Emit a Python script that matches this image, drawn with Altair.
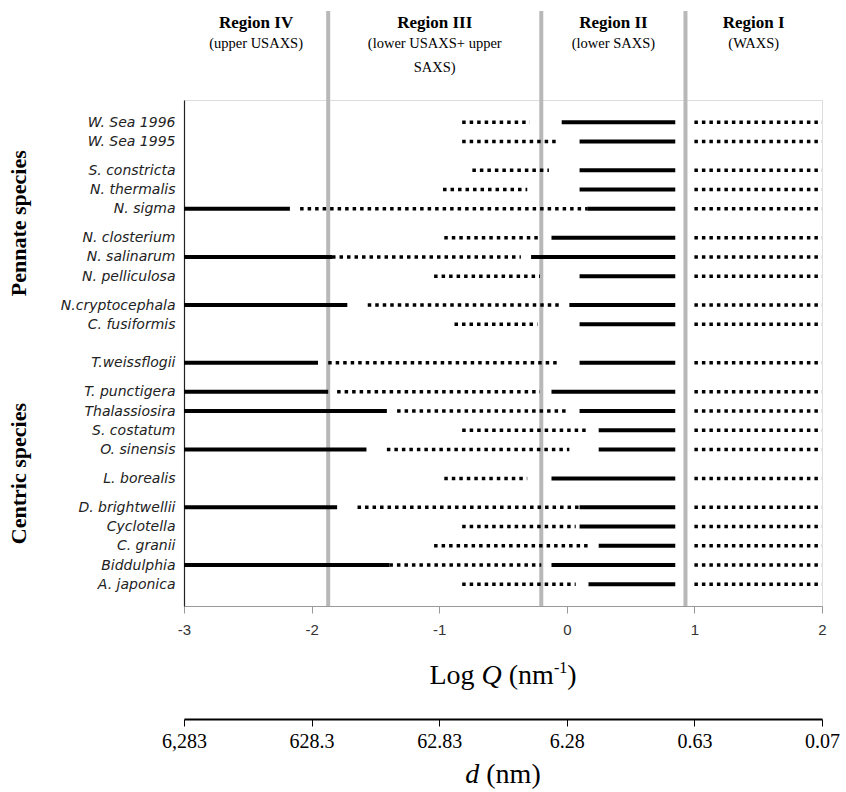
import altair as alt
import pandas as pd

# ---------------- data ----------------
species = ["W. Sea 1996", "W. Sea 1995", "S. constricta", "N. thermalis", "N. sigma",
           "N. closterium", "N. salinarum", "N. pelliculosa", "N.cryptocephala", "C. fusiformis",
           "T.weissflogii", "T. punctigera", "Thalassiosira", "S. costatum", "O. sinensis",
           "L. borealis", "D. brightwellii", "Cyclotella", "C. granii", "Biddulphia", "A. japonica"]
groups = ["Pennate species"] * 10 + ["Centric species"] * 11
# row slot of each species on the vertical grid (as spaced in the figure)
row_slot = [0, 2, 5, 7, 9, 12, 14, 16, 19, 21,
            25, 28, 30, 32, 34, 37, 40, 42, 44, 46, 48]
# Region IV solid segment end (starts at -3); None = no segment
iv_end = [None, None, None, None, -2.17, None, -1.84, None, -1.72, None,
          -1.95, -1.87, -1.41, None, -1.57, None, -1.80, None, None, -1.39, None]
# Region III dotted segment
iii_start = [-0.82, -0.82, -0.74, -0.97, -2.09, -0.96, -1.84, -1.04, -1.56, -0.88,
             -1.87, -1.80, -1.33, -0.82, -1.41, -0.96, -1.64, -0.82, -1.04, -1.39, -0.82]
iii_end = [-0.29, -0.06, -0.14, -0.31, 0.16, -0.20, -0.36, -0.21, -0.06, -0.23,
           -0.07, -0.21, 0.00, 0.17, 0.02, -0.31, 0.10, 0.07, 0.17, -0.20, 0.07]
# Region II solid segment start (ends at II_END)
ii_start = [-0.04, 0.10, 0.10, 0.10, 0.16, -0.12, -0.28, 0.10, 0.02, 0.10,
            0.10, -0.12, 0.10, 0.25, 0.25, -0.12, 0.10, 0.10, 0.25, -0.12, 0.17]
II_END = 0.85
I_START, I_END = 1.0, 2.0
AXIS_MIN, AXIS_MAX = -3, 2

region_bounds = [-3, -1.87, -0.20, 0.93, 2]
region_names = ["Region IV", "Region III", "Region II", "Region I"]
region_subs = ["(upper USAXS)", "(lower USAXS+ upper\nSAXS)", "(lower SAXS)", "(WAXS)"]

q_ticks = [-3, -2, -1, 0, 1, 2]
d_labels = ["6,283", "628.3", "62.83", "6.28", "0.63", "0.07"]

# ---------------- tables ----------------
rows = []
for i, s in enumerate(species):
    if iv_end[i] is not None:
        rows.append(dict(species=s, slot=row_slot[i], kind="solid", x=AXIS_MIN, x2=iv_end[i]))
    rows.append(dict(species=s, slot=row_slot[i], kind="dotted", x=iii_start[i], x2=iii_end[i]))
    rows.append(dict(species=s, slot=row_slot[i], kind="solid", x=ii_start[i], x2=II_END))
    rows.append(dict(species=s, slot=row_slot[i], kind="dotted", x=I_START, x2=I_END))
seg = pd.DataFrame(rows)

regions = pd.DataFrame({
    "name": region_names,
    "sub": region_subs,
    "mid": [(region_bounds[k] + region_bounds[k + 1]) / 2 for k in range(4)],
})
bounds = pd.DataFrame({"b": region_bounds[1:-1]})

grp_names = ["Pennate species", "Centric species"]
grp_center = []
for g in grp_names:
    sl = [row_slot[i] for i in range(len(species)) if groups[i] == g]
    grp_center.append((min(sl) + max(sl)) / 2)
grp = pd.DataFrame({"g": grp_names, "yc": grp_center})

# ---------------- layout ----------------
W, H = 638, 506
SERIF = "Liberation Serif"
SANS = "Liberation Sans"

x_scale = alt.Scale(domain=[AXIS_MIN, AXIS_MAX], nice=False, zero=False)
y_scale = alt.Scale(domain=[-2.3, 50.25], reverse=True, nice=False, zero=False)


def nested(values, labels):
    expr = "''"
    for v, l in reversed(list(zip(values, labels))):
        expr = f"datum.value == {v} ? '{l}' : ({expr})"
    return expr


y_axis = alt.Axis(values=row_slot, labelExpr=nested(row_slot, species), title=None,
                  ticks=False, tickSize=0, grid=False, domainColor="#222", domainWidth=1.2,
                  labelFont="DejaVu Sans", labelFontStyle="italic", labelFontSize=14,
                  labelColor="#222", labelPadding=9, labelOverlap=False)

x_axis = alt.Axis(values=q_ticks, labelExpr="'' + datum.value", title=None, grid=False,
                  domainColor="#999", tickColor="#999", tickSize=7, labelFlush=False,
                  labelFont=SANS, labelFontSize=15, labelColor="#333", labelPadding=9)

d_axis = alt.Axis(orient="bottom", offset=113, values=q_ticks, labelExpr=nested(q_ticks, d_labels),
                  title=None, grid=False, domainColor="black", domainWidth=2.2,
                  tickColor="black", tickSize=7, labelFlush=False, labelOverlap=False,
                  labelFont=SERIF, labelFontSize=20, labelColor="black", labelPadding=5)

gray = alt.Chart(bounds).mark_rule(color="#b8b8b8", strokeWidth=4).encode(
    x=alt.X("b:Q", scale=x_scale, axis=None),
    y=alt.value(-89), y2=alt.value(H))

solid = alt.Chart(seg).transform_filter(alt.datum.kind == "solid").mark_rule(
    color="black", strokeWidth=4).encode(
    x=alt.X("x:Q", scale=x_scale, axis=x_axis), x2="x2:Q",
    y=alt.Y("slot:Q", scale=y_scale, axis=y_axis))

dotted = alt.Chart(seg).transform_filter(alt.datum.kind == "dotted").mark_rule(
    color="black", strokeWidth=3.5, strokeDash=[3.5, 4], strokeCap="butt").encode(
    x=alt.X("x:Q", scale=x_scale, axis=None), x2="x2:Q",
    y=alt.Y("slot:Q", scale=y_scale, axis=y_axis))

d_layer = alt.Chart(pd.DataFrame({"v": q_ticks})).mark_point(opacity=0).encode(
    x=alt.X("v:Q", scale=x_scale, axis=d_axis))

reg_title = alt.Chart(regions).mark_text(font=SERIF, fontWeight="bold", fontSize=17,
                                         color="black").encode(
    x=alt.X("mid:Q", scale=x_scale, axis=None), y=alt.value(-77), text="name:N")

reg_sub = alt.Chart(regions).mark_text(font=SERIF, fontSize=14.5, color="black",
                                       baseline="top", lineBreak="\n", lineHeight=24).encode(
    x=alt.X("mid:Q", scale=x_scale, axis=None), y=alt.value(-63), text="sub:N")

grp_text = alt.Chart(grp).mark_text(font=SERIF, fontWeight="bold", fontSize=22, angle=270,
                                    color="black").encode(
    x=alt.value(-165), y=alt.Y("yc:Q", scale=y_scale, axis=y_axis), text="g:N")

# ---- composed axis titles (mixed styles) ----
TW = {"L": 611, "o": 500, "g": 500, "Q": 722, "(": 333, "n": 500, "m": 778, ")": 333,
      "-": 333, "1": 500, "d": 500, " ": 250}


def tw(s, size):
    return sum(TW[c] for c in s) * size / 1000.0


def piece(text, x, y, size, style="normal"):
    return alt.Chart(pd.DataFrame({"t": [text]})).mark_text(
        align="left", baseline="alphabetic", font=SERIF, fontSize=size,
        fontStyle=style, color="black").encode(x=alt.value(x), y=alt.value(y), text="t:N")


FS, FSUP = 28, 16
SP = 7  # word gap
cx = W / 2
# (text, size, style, baseline shift, gap after)
parts = [("Log", FS, "normal", 0, SP), ("Q", FS, "italic", 0, SP), ("(nm", FS, "normal", 0, 0),
         ("-1", FSUP, "normal", -11, 0), (")", FS, "normal", 0, 0)]
total = sum(tw(t, s) + g for t, s, _, _, g in parts)
xx = cx - total / 2
q_title = []
for t, s, st, dy, g in parts:
    q_title.append(piece(t, xx, 584 + dy, s, st))
    xx += tw(t, s) + g

dparts = [("d", FS, "italic", SP), ("(nm)", FS, "normal", 0)]
total = sum(tw(t, s) + g for t, s, _, g in dparts)
xx = cx - total / 2
d_title = []
for t, s, st, g in dparts:
    d_title.append(piece(t, xx, 683, s, st))
    xx += tw(t, s) + g

chart = alt.layer(gray, solid, dotted, d_layer, reg_title, reg_sub, grp_text,
                  *q_title, *d_title).resolve_axis(x="independent").properties(
    width=W, height=H,
    padding={"left": 184, "top": 100, "right": 24, "bottom": 186},
    autosize=alt.AutoSizeParams(type="none"),
).configure_view(stroke="#888", strokeWidth=1).configure(background="white")

chart.save("out.html", embed_options={"renderer": "svg", "actions": False})
